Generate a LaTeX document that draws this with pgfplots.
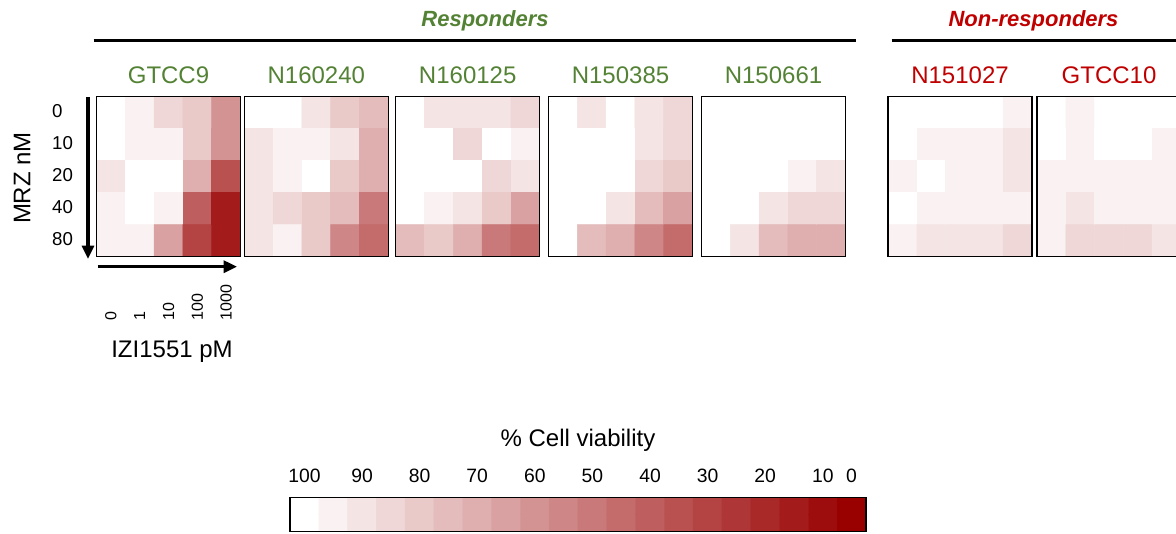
\documentclass[border=0pt]{standalone}
\usepackage{fontspec}
\setmainfont{Liberation Sans}
\usepackage{pgfplots}
\usepackage{pgfplotstable}
\pgfplotsset{compat=1.18}
\usetikzlibrary{arrows.meta}
\definecolor{resgreen}{HTML}{548235}
\definecolor{nonred}{HTML}{C00000}

\pgfplotsset{
  colormap={viab}{
    rgb255=(153,0,0) rgb255=(158,13,13) rgb255=(164,27,27) rgb255=(169,40,40)
    rgb255=(175,54,54) rgb255=(180,67,67) rgb255=(185,81,81) rgb255=(191,94,94)
    rgb255=(196,107,107) rgb255=(201,121,121) rgb255=(207,134,134) rgb255=(212,147,147)
    rgb255=(217,161,161) rgb255=(223,174,174) rgb255=(228,188,188) rgb255=(234,201,201)
    rgb255=(239,215,215) rgb255=(244,228,228) rgb255=(250,242,242) rgb255=(255,255,255)
  },
  heat/.style={
    scale only axis, width=108pt, height=120pt, anchor=south west,
    xmin=-0.5, xmax=4.5, ymin=-0.5, ymax=4.5, y dir=reverse,
    enlargelimits=false, xtick=\empty, ytick=\empty,
    axis line style={line width=0.8pt, black}, axis on top,
    colormap name=viab, colormap access=direct,
    /pgf/number format/assume math mode=true,
  },
}

% viability (%) per cell: rows MRZ 0,10,20,40,80 nM (y); columns IZI1551 0,1,10,100,1000 pM (x)
\pgfplotstableread{
x y v
0 0 98
1 0 93
2 0 83
3 0 78
4 0 58
0 1 98
1 1 93
2 1 93
3 1 78
4 1 58
0 2 88
1 2 98
2 2 98
3 2 68
4 2 33
0 3 93
1 3 98
2 3 93
3 3 38
4 3 13
0 4 93
1 4 93
2 4 63
3 4 28
4 4 13
}\tGTCCnine

\pgfplotstableread{
x y v
0 0 98
1 0 98
2 0 88
3 0 78
4 0 73
0 1 88
1 1 93
2 1 93
3 1 88
4 1 68
0 2 88
1 2 93
2 2 98
3 2 78
4 2 68
0 3 88
1 3 83
2 3 78
3 3 73
4 3 48
0 4 88
1 4 93
2 4 78
3 4 53
4 4 43
}\tNa

\pgfplotstableread{
x y v
0 0 98
1 0 88
2 0 88
3 0 88
4 0 83
0 1 98
1 1 98
2 1 83
3 1 98
4 1 93
0 2 98
1 2 98
2 2 98
3 2 83
4 2 88
0 3 98
1 3 93
2 3 88
3 3 78
4 3 63
0 4 73
1 4 78
2 4 68
3 4 48
4 4 43
}\tNb

\pgfplotstableread{
x y v
0 0 98
1 0 88
2 0 98
3 0 88
4 0 83
0 1 98
1 1 98
2 1 98
3 1 88
4 1 83
0 2 98
1 2 98
2 2 98
3 2 83
4 2 78
0 3 98
1 3 98
2 3 88
3 3 73
4 3 63
0 4 98
1 4 73
2 4 68
3 4 53
4 4 43
}\tNc

\pgfplotstableread{
x y v
0 0 98
1 0 98
2 0 98
3 0 98
4 0 98
0 1 98
1 1 98
2 1 98
3 1 98
4 1 98
0 2 98
1 2 98
2 2 98
3 2 93
4 2 88
0 3 98
1 3 98
2 3 88
3 3 83
4 3 83
0 4 98
1 4 88
2 4 73
3 4 68
4 4 68
}\tNd

\pgfplotstableread{
x y v
0 0 98
1 0 98
2 0 98
3 0 98
4 0 93
0 1 98
1 1 93
2 1 93
3 1 93
4 1 88
0 2 93
1 2 98
2 2 93
3 2 93
4 2 88
0 3 98
1 3 93
2 3 93
3 3 93
4 3 93
0 4 93
1 4 88
2 4 88
3 4 88
4 4 83
}\tNe

\pgfplotstableread{
x y v
0 0 98
1 0 93
2 0 98
3 0 98
4 0 98
0 1 98
1 1 93
2 1 98
3 1 98
4 1 93
0 2 93
1 2 93
2 2 93
3 2 93
4 2 93
0 3 93
1 3 88
2 3 93
3 3 93
4 3 93
0 4 93
1 4 83
2 4 83
3 4 83
4 4 88
}\tGTCCten

\pgfplotstableread{
x y v
0 0 98
1 0 93
2 0 88
3 0 83
4 0 78
5 0 73
6 0 68
7 0 63
8 0 58
9 0 53
10 0 48
11 0 43
12 0 38
13 0 33
14 0 28
15 0 23
16 0 18
17 0 13
18 0 8
19 0 3
0 1 98
1 1 93
2 1 88
3 1 83
4 1 78
5 1 73
6 1 68
7 1 63
8 1 58
9 1 53
10 1 48
11 1 43
12 1 38
13 1 33
14 1 28
15 1 23
16 1 18
17 1 13
18 1 8
19 1 3
}\tbar

\newcommand{\heatplot}[1]{\addplot[matrix plot*, mesh/cols=5, point meta={floor(\thisrow{v}/5)}] table[x=x, y=y] {#1};}

\begin{document}
\begin{tikzpicture}
\path[use as bounding box] (0pt,0pt) rectangle (882pt,399.75pt);

% GTCC9 with tick labels
\begin{axis}[heat, at={(72.375pt,207.225pt)},
  ytick={0,1,2,3,4}, yticklabels={0,10,20,40,80},
  yticklabel style={anchor=west, xshift=-33.4pt, yshift=1.5pt, inner sep=0pt, font=\fontsize{14}{16}\selectfont},
  xtick={0,1,2,3,4}, xticklabels={0,1,10,100,1000},
  xticklabel shift=48pt,
  xticklabel style={rotate=90, anchor=west, inner sep=0pt, font=\fontsize{12}{14}\selectfont},
  major tick length=0pt]
\heatplot{\tGTCCnine}
\end{axis}
\begin{axis}[heat, at={(183.225pt,207.225pt)}] \heatplot{\tNa} \end{axis}
\begin{axis}[heat, at={(296.775pt,207.225pt)}] \heatplot{\tNb} \end{axis}
\begin{axis}[heat, at={(411.375pt,207.225pt)}] \heatplot{\tNc} \end{axis}
\begin{axis}[heat, at={(526.125pt,207.225pt)}] \heatplot{\tNd} \end{axis}
\begin{axis}[heat, at={(666pt,207.225pt)}] \heatplot{\tNe} \end{axis}
\begin{axis}[heat, at={(777.75pt,207.225pt)}] \heatplot{\tGTCCten} \end{axis}

% colour scale
\begin{axis}[scale only axis, width=432pt, height=25.5pt, at={(217.5pt,1.125pt)}, anchor=south west,
  xmin=-0.5, xmax=19.5, ymin=-0.5, ymax=1.5, enlargelimits=false,
  ytick=\empty, xtick={0,2,4,6,8,10,12,14,16,18,19},
  xticklabels={100,90,80,70,60,50,40,30,20,10,0},
  xticklabel pos=upper, major tick length=0pt,
  xticklabel style={anchor=base, yshift=11.25pt, font=\fontsize{14.5}{17}\selectfont},
  axis line style={line width=0.8pt, black}, axis on top,
  colormap name=viab, colormap access=direct]
\addplot[matrix plot*, mesh/cols=20, point meta={floor(\thisrow{v}/5)}] table[x=x, y=y] {\tbar};
\end{axis}

\begin{scope}[x=0.75pt, y=0.75pt]
\node[anchor=base, font=\fontsize{18}{21}\selectfont] at (578,87) {\% Cell viability};

% group headers
\node[anchor=base, font=\fontsize{16.5}{19}\selectfont\bfseries\itshape, text=resgreen] at (485,506) {Responders};
\node[anchor=base, font=\fontsize{16.5}{19}\selectfont\bfseries\itshape, text=nonred] at (1033.5,506) {Non-responders};
\draw[line width=2.3pt] (93.5,492.3) -- (856,492.3);
\draw[line width=2.3pt] (891.5,492.3) -- (1180,492.3);

% sample names
\node[anchor=base, font=\fontsize{18}{21}\selectfont, text=resgreen] at (168.5,449.7) {GTCC9};
\node[anchor=base, font=\fontsize{18}{21}\selectfont, text=resgreen] at (316.3,449.7) {N160240};
\node[anchor=base, font=\fontsize{18}{21}\selectfont, text=resgreen] at (467.7,449.7) {N160125};
\node[anchor=base, font=\fontsize{18}{21}\selectfont, text=resgreen] at (620.5,449.7) {N150385};
\node[anchor=base, font=\fontsize{18}{21}\selectfont, text=resgreen] at (773.5,449.7) {N150661};
\node[anchor=base, font=\fontsize{18}{21}\selectfont, text=nonred] at (960,449.7) {N151027};
\node[anchor=base, font=\fontsize{18}{21}\selectfont, text=nonred] at (1109,449.7) {GTCC10};

% axis arrows and titles
\draw[line width=2.3pt, -{Triangle[length=10pt, width=9pt]}] (88,436) -- (88,274);
\draw[line width=2.3pt, -{Triangle[length=10pt, width=9pt]}] (97.7,266.3) -- (237,266.3);
\node[rotate=90, font=\fontsize{18}{21}\selectfont] at (22,355) {MRZ nM};
\node[anchor=base, font=\fontsize{18}{21}\selectfont] at (172,176) {IZI1551 pM};
\end{scope}
\end{tikzpicture}
\end{document}
